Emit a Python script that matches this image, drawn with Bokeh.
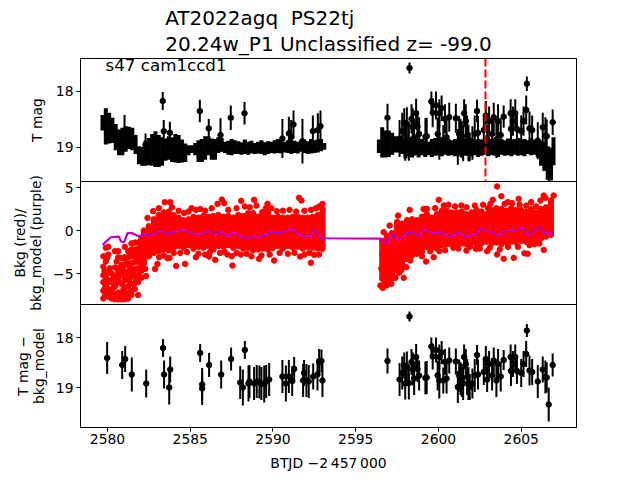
from bokeh.plotting import figure
from bokeh.layouts import column
from bokeh.models import Range1d, Label, Span, FixedTicker, Title
from bokeh.embed import file_html
from bokeh.resources import INLINE

# --- dense photometry envelope (time, upper mag, lower mag)
band_t = [2579.7,2579.9,2580.1,2580.3,2580.5,2580.7,2580.9,2581.1,2581.3,2581.5,2581.7,2581.9,2582.1,2582.3,2582.5,2582.7,2582.9,2583.1,2583.3,2583.5,2583.7,2583.9,2584.1,2584.3,2584.5,2584.7,2584.9,2585.1,2585.3,2585.5,2585.7,2585.9,2586.1,2586.3,2586.5,2586.7,2586.9,2587.1,2587.3,2587.5,2587.7,2587.9,2588.1,2588.3,2588.5,2588.7,2588.9,2589.1,2589.3,2589.5,2589.7,2589.9,2590.1,2590.3,2590.5,2590.7,2590.9,2591.1,2591.3,2591.5,2591.7,2591.9,2592.1,2592.3,2592.5,2592.7,2592.9,2593.1,
          2596.4,2596.6,2596.8,2597.0,2597.2,2597.4,2597.6,2597.8,2598.0,2598.2,2598.4,2598.6,2598.8,2599.0,2599.2,2599.4,2599.6,2599.8,2600.0,2600.2,2600.4,2600.6,2600.8,2601.0,2601.2,2601.4,2601.6,2601.8,2602.0,2602.2,2602.4,2602.6,2602.8,2603.0,2603.2,2603.4,2603.6,2603.8,2604.0,2604.2,2604.4,2604.6,2604.8,2605.0,2605.2,2605.4,2605.6,2605.8,2606.0,2606.2,2606.4,2606.6,2606.8,2606.95]
band_top = [18.42,18.30,18.38,18.47,18.58,18.68,18.65,18.62,18.63,18.65,18.78,18.98,18.99,18.88,18.83,18.76,18.71,18.78,18.82,18.84,18.80,18.82,18.76,18.78,18.86,18.93,18.96,18.96,18.92,18.87,18.85,18.80,18.80,18.84,18.85,18.82,18.83,18.90,18.88,18.85,18.87,18.89,18.91,18.86,18.90,18.88,18.92,18.90,18.87,18.91,18.89,18.90,18.87,18.85,18.88,18.90,18.87,18.86,18.88,18.90,18.87,18.86,18.89,18.85,18.87,18.86,18.85,18.92,
            18.86,18.64,18.70,18.70,18.74,18.80,18.82,18.84,18.82,18.83,18.81,18.85,18.84,18.85,18.88,18.90,18.85,18.83,18.84,18.84,18.86,18.85,18.87,18.85,18.86,18.88,18.84,18.86,18.83,18.87,18.85,18.86,18.84,18.86,18.85,18.83,18.86,18.85,18.87,18.84,18.86,18.85,18.83,18.86,18.85,18.87,18.84,18.86,18.87,18.88,18.90,18.98,19.00,18.82]
band_bot = [18.70,18.95,18.93,18.92,19.05,19.14,19.14,19.08,19.03,19.05,19.12,19.30,19.33,19.33,19.32,19.33,19.35,19.35,19.33,19.24,19.22,19.26,19.27,19.28,19.27,19.26,19.14,19.10,19.14,19.26,19.26,19.22,19.14,19.22,19.22,19.10,19.08,19.10,19.13,19.14,19.12,19.12,19.13,19.12,19.13,19.11,19.12,19.11,19.12,19.14,19.12,19.10,19.11,19.10,19.11,19.09,19.10,19.12,19.10,19.11,19.08,19.10,19.12,19.11,19.10,19.09,19.07,19.04,
            19.10,19.18,19.18,19.17,19.13,19.09,19.09,19.12,19.20,19.16,19.18,19.14,19.18,19.14,19.17,19.14,19.17,19.15,19.14,19.16,19.13,19.15,19.14,19.16,19.14,19.17,19.15,19.13,19.16,19.14,19.17,19.15,19.13,19.16,19.14,19.15,19.17,19.13,19.15,19.14,19.16,19.13,19.15,19.14,19.16,19.12,19.14,19.13,19.18,19.33,19.42,19.58,19.59,19.32]

# --- brighter points in the top panel, first orbit
up_t = [2581.03,2582.30,2583.34,2583.40,2583.77,2585.58,2586.12,2586.83,2587.45,2588.28,2590.57,2590.96,2591.10,2591.24,2591.78,2592.41,2592.71,2592.87]
up_mag = [18.72,18.95,18.17,18.71,18.74,18.35,18.66,18.78,18.47,18.39,18.84,18.75,18.81,18.59,18.89,18.71,18.69,18.62]
up_err = [0.30,0.20,0.16,0.20,0.20,0.20,0.17,0.30,0.22,0.20,0.35,0.30,0.30,0.25,0.40,0.28,0.30,0.28]

# --- background-subtracted points, first orbit
sub1_t = [2579.98,2580.89,2581.07,2581.47,2582.34,2583.36,2583.42,2583.73,2583.79,2585.60,2585.72,2585.72,2586.14,2586.87,2587.47,2588.30,2588.02,2588.18,2588.52,2588.58,2588.86,2589.02,2589.18,2589.30,2589.47,2589.59,2589.77,2590.57,2590.78,2590.96,2591.16,2591.28,2591.82,2591.88,2592.02,2592.16,2592.43,2592.69,2592.79,2592.93,2592.99]
sub1_mag = [18.41,18.55,18.43,18.74,18.92,18.21,18.74,19.00,18.64,18.31,18.94,19.02,18.55,18.74,18.43,18.25,18.90,19.00,18.92,18.88,18.92,18.88,18.89,18.92,18.93,18.88,18.84,18.78,18.92,18.78,18.87,18.63,18.86,18.71,18.86,18.88,18.78,18.74,18.49,18.47,18.86]
sub1_err = [0.32,0.28,0.26,0.34,0.28,0.18,0.28,0.34,0.26,0.18,0.33,0.33,0.24,0.28,0.23,0.18,0.33,0.36,0.36,0.33,0.33,0.33,0.33,0.33,0.37,0.33,0.33,0.33,0.36,0.33,0.30,0.24,0.33,0.26,0.33,0.33,0.26,0.32,0.26,0.23,0.33]

# --- sparse points, second orbit
sub2_t = [2596.92,2597.65,2597.81,2597.93,2597.99,2598.09,2598.21,2598.25,2598.37,2598.45,2598.53,2598.65,2598.73,2598.83,2599.21,2599.29,2599.57,2599.65,2599.85,2599.95,2600.05,2600.05,2600.19,2600.29,2600.39,2600.49,2600.65,2601.05,2601.17,2601.25,2601.33,2601.41,2601.49,2601.55,2601.65,2601.73,2601.81,2601.89,2602.05,2602.19,2602.33,2602.39,2602.74,2602.86,2602.94,2603.06,2603.24,2603.34,2603.50,2603.60,2603.76,2603.94,2604.36,2604.38,2604.50,2604.64,2604.74,2605.00,2605.14,2605.30,2605.34,2605.50,2605.66,2606.00,2606.30,2606.46,2606.54,2606.66,2606.90]
sub2_mag = [18.47,18.84,18.71,18.56,18.92,18.58,18.91,17.58,18.49,18.63,18.82,18.39,18.63,18.76,18.81,18.80,18.18,18.38,18.25,18.76,18.39,18.86,18.30,18.86,18.49,18.82,18.46,18.48,18.99,18.76,18.82,18.86,18.92,18.39,18.53,18.79,18.92,18.99,18.92,18.76,18.35,18.74,18.69,18.43,18.84,18.53,18.76,18.46,18.86,18.53,18.78,18.45,18.39,18.67,18.53,18.39,18.67,18.71,18.53,18.33,17.86,18.66,18.69,18.88,18.64,18.79,18.80,19.34,18.55]
sub2_err = [0.25,0.33,0.33,0.26,0.32,0.30,0.33,0.10,0.26,0.33,0.33,0.26,0.26,0.30,0.33,0.33,0.18,0.26,0.25,0.30,0.25,0.36,0.23,0.26,0.26,0.30,0.26,0.26,0.32,0.32,0.33,0.33,0.33,0.25,0.30,0.36,0.33,0.26,0.30,0.33,0.20,0.30,0.26,0.26,0.25,0.26,0.30,0.26,0.33,0.30,0.30,0.20,0.25,0.30,0.26,0.25,0.26,0.28,0.26,0.26,0.13,0.30,0.26,0.33,0.26,0.33,0.30,0.34,0.23]

# --- background: solid core of the red cloud (time, low, high)
bkg_t = [2582.2,2582.5,2582.8,2583.1,2583.4,2583.7,2584.0,2584.3,2584.6,2584.9,2585.2,2585.5,2585.8,2586.1,2586.4,2586.7,2587.0,2587.3,2587.6,2587.9,2588.2,2588.5,2588.8,2589.1,2589.4,2589.7,2590.0,2590.3,2590.6,2590.9,2591.2,2591.5,2591.8,2592.1,2592.4,2592.7,2593.0,
         2596.6,2596.9,2597.2,2597.5,2597.8,2598.1,2598.4,2598.7,2599.0,2599.3,2599.6,2599.9,2600.2,2600.5,2600.8,2601.1,2601.4,2601.7,2602.0,2602.3,2602.6,2602.9,2603.2,2603.5,2603.8,2604.1,2604.4,2604.7,2605.0,2605.3,2605.6,2605.9,2606.2,2606.5,2606.8]
bkg_lo = [-3.8,-3.0,-2.6,-2.4,-2.2,-2.3,-2.0,-1.8,-2.0,-1.7,-2.1,-1.9,-2.0,-1.8,-2.2,-1.8,-1.9,-1.7,-2.0,-1.8,-2.1,-2.0,-2.3,-2.2,-2.1,-2.2,-2.0,-1.8,-2.1,-1.8,-2.0,-1.9,-2.1,-1.9,-2.0,-2.1,-1.8,
          -5.6,-5.4,-5.6,-4.6,-4.1,-3.3,-2.9,-2.7,-2.5,-1.9,-2.0,-2.1,-1.7,-1.6,-1.6,-1.6,-1.5,-1.6,-1.4,-1.7,-1.5,-1.3,-1.5,-1.4,-1.6,-1.4,-1.3,-1.4,-1.2,-1.3,-1.1,-1.1,-0.9,-0.7,-0.5]
bkg_hi = [0.0,0.5,1.3,1.8,2.1,2.2,1.8,1.5,1.2,1.3,1.6,1.5,1.7,1.6,1.7,1.8,1.6,1.7,1.5,1.8,1.7,2.0,2.0,1.6,1.8,2.1,1.5,1.6,1.5,1.5,1.6,1.6,1.5,1.5,1.6,1.8,2.5,
          -1.2,-0.6,-0.3,1.0,0.8,1.2,1.3,1.2,1.6,1.9,1.5,1.9,2.3,2.3,2.1,2.1,2.2,1.9,2.1,2.4,2.2,1.9,2.4,2.6,2.5,2.3,2.6,2.4,2.4,2.2,2.5,2.1,2.5,2.7,3.5]

# --- background: individual red points
dot_t = [2579.75,2579.75,2579.75,2579.75,2579.75,2579.75,2579.9,2579.9,2579.9,2579.9,2579.9,2580.05,2580.05,2580.05,2580.05,2580.05,2580.05,2580.25,2580.25,2580.25,2580.25,2580.45,2580.45,2580.45,2580.45,2580.45,2580.45,2580.65,2580.65,2580.65,2580.65,2580.65,2580.65,2580.85,2580.85,2580.85,2580.85,2580.85,2580.85,2581.05,2581.05,2581.05,2581.05,2581.05,2581.05,2581.05,2581.05,2581.25,2581.25,2581.25,2581.25,2581.25,2581.25,2581.25,2581.25,2581.45,2581.45,2581.45,2581.45,2581.45,2581.45,2581.45,2581.45,2581.45,2581.65,2581.65,2581.65,2581.65,2581.65,2581.65,2581.65,2581.65,2581.85,2581.85,2581.85,2581.85,2581.85,2581.85,2581.85,2581.85,2582.05,2582.05,2582.05,2582.05,2582.05,2582.05,2582.05,
         2583.46,2583.79,2582.76,2582.42,2584.63,2585.08,2585.34,2586.65,2586.91,2587.05,2588.08,2588.86,2589.67,2589.57,2590.23,2591.58,2591.72,2592.99,2592.79,2589.35,
         2582.28,2582.88,2583.02,2583.12,2583.63,2583.75,2584.15,2584.69,2585.34,2586.14,2586.51,2587.25,2587.55,2587.51,2588.06,2589.16,2590.07,2591.64,2592.29,2592.49,2592.79,2592.99,
         2603.54,2603.80,2603.28,2603.14,2600.02,2598.26,2597.56,2599.31,2600.32,2601.38,2604.45,2604.85,2606.16,2606.36,2606.96,2606.46,
         2596.69,2597.05,2596.49,2596.63,2597.09,2597.90,2598.06,2598.30,2599.25,2599.71,2600.06,2601.69,2602.27,2602.94,2603.54,2603.94,2604.55,2605.19,2605.39,2606.36,
         2579.82,2579.84,2579.86,2579.97,2579.99,2580.14,2580.17,2580.34,2580.37,2580.39,2580.55,2580.58,2580.74,2580.77,2580.79,2580.94,2580.97,2581.13,2581.16,2581.34,2581.37,2581.53,2581.56,2581.74,2581.77,2581.93,2581.96,2582.12,2582.15,2582.33,
         2596.55,2596.60,2596.65,2596.72,2596.78,2596.85,2596.92,2597.0,2597.15,2597.28,2597.4,2597.62,2597.75,
         2583.1,2583.9,2584.3,2584.9,2585.6,2585.9,2586.3,2587.3,2587.8,2588.3,2588.6,2589.0,2589.9,2590.6,2591.0,2591.4,2591.9,2592.3,2592.6,
         2583.4,2584.0,2584.4,2584.8,2585.5,2585.9,2586.2,2586.8,2587.1,2587.8,2588.4,2588.7,2589.3,2589.8,2590.4,2590.9,2591.3,2591.9,2592.2,
         2599.1,2599.8,2600.6,2601.0,2601.7,2602.2,2602.7,2603.0,2604.0,2604.2,2604.9,2605.3,2605.6,2605.9,
         2599.0,2599.5,2600.4,2600.9,2601.2,2601.9,2602.5,2603.1,2603.7,2604.2,2604.8,2605.5,2605.8,2606.1]
dot_v = [-3.0,-4.2,-5.2,-6.0,-7.0,-7.9,-2.0,-3.6,-5.5,-6.4,-7.2,-1.9,-2.8,-4.9,-5.8,-6.8,-7.7,-5.0,-6.0,-7.0,-7.9,-2.4,-4.3,-5.3,-6.5,-7.4,-8.0,-2.4,-3.1,-4.8,-5.7,-7.2,-8.0,-3.2,-4.0,-5.2,-6.2,-7.3,-8.0,-1.9,-3.1,-4.0,-4.9,-5.8,-6.6,-7.4,-8.0,-2.4,-3.1,-3.9,-4.8,-5.7,-6.5,-7.3,-7.9,-1.5,-2.2,-3.0,-3.8,-4.6,-5.4,-6.2,-7.0,-7.5,-1.4,-2.2,-2.9,-3.7,-4.5,-5.3,-6.1,-6.8,-1.4,-2.1,-2.9,-3.6,-4.4,-5.2,-6.0,-7.5,-1.0,-1.6,-2.4,-3.1,-3.9,-4.7,-5.5,
         3.29,3.29,2.25,1.47,2.05,2.60,2.40,3.10,3.60,3.18,3.45,3.57,3.10,2.60,2.25,3.80,3.49,3.10,2.79,2.13,
         -4.46,-4.46,-3.88,-3.10,-3.22,-3.18,-4.11,-3.88,-3.10,-3.02,-3.41,-2.79,-4.07,-2.98,-2.79,-3.29,-3.49,-3.02,-3.75,-2.83,-2.79,-2.13,
         5.12,3.99,3.57,3.10,3.57,2.40,1.74,2.52,2.91,2.91,3.18,3.68,3.49,4.07,4.07,3.80,
         -0.19,0.58,-6.40,-6.67,-6.12,-5.50,-4.26,-3.49,-3.60,-3.10,-2.40,-2.33,-2.13,-2.40,-2.79,-3.29,-3.18,-2.64,-2.71,-2.25,
         -4.7,-6.7,-7.6,-3.2,-6.1,-4.4,-7.3,-5.6,-6.6,-7.6,-3.6,-6.1,-4.3,-5.2,-7.7,-4.6,-6.8,-3.5,-5.4,-4.3,-6.1,-2.6,-4.9,-3.2,-5.7,-2.5,-4.8,-2.8,-4.3,-5.3,
         -4.4,-2.7,-3.6,-6.2,-3.0,-6.4,-5.9,-2.2,-6.2,-5.4,-5.5,-4.9,-4.6,
         2.6,2.7,2.3,2.2,2.5,2.3,2.6,2.4,2.6,2.8,2.7,2.9,2.6,2.3,2.4,2.2,2.3,2.4,2.6,
         -2.9,-2.6,-2.6,-2.5,-2.7,-2.8,-2.5,-2.6,-2.5,-2.6,-2.7,-3.0,-2.9,-2.8,-2.6,-2.7,-2.6,-2.8,-2.6,
         2.5,2.6,3.0,2.8,2.7,2.9,3.0,2.6,3.1,3.3,3.0,2.9,3.3,2.8,
         -3.0,-2.4,-2.3,-2.0,-2.1,-1.9,-2.1,-2.0,-2.2,-1.9,-1.9,-1.7,-1.6,-1.5]

# --- background model (purple)
model_t = [2579.70,2580.20,2580.70,2580.81,2581.01,2581.21,2581.51,2581.91,2582.22,2582.62,2583.22,2583.63,2584.23,2584.63,2585.04,2585.64,2586.14,2586.55,2586.85,2587.25,2587.55,2588.26,2588.66,2589.26,2589.87,2590.47,2591.08,2591.68,2592.29,2592.49,2592.89,2593.10,2596.49,2596.89,2597.20,2597.60,2598.00,2598.50,2598.81,2599.11,2599.71,2600.12,2600.72,2601.22,2601.63,2602.33,2602.53,2603.14,2603.64,2604.04,2604.75,2605.05,2605.45,2606.06,2606.46,2606.96]
model_v = [-1.67,-0.78,-0.70,-1.28,-1.36,-0.31,-0.31,-0.70,-0.39,-0.50,0.00,-0.39,-0.08,0.08,-0.31,-0.47,0.00,-0.50,-0.08,-0.70,-0.19,-0.85,-0.78,-0.70,-0.19,-0.31,0.19,-0.58,-0.70,0.12,-0.85,-0.90,-0.93,-1.55,-0.39,-1.16,-0.39,-0.19,-0.70,0.19,-0.39,-0.19,-0.70,-0.19,-0.70,-0.31,0.27,-0.19,-0.58,0.00,0.12,0.39,-0.58,0.39,-0.39,-0.31]

event_t = 2602.84
x_ticks = [2580, 2585, 2590, 2595, 2600, 2605]
mag_ticks = [18, 19]
bkg_ticks = [-5, 0, 5]

FONT = "DejaVu Sans"
x_range = Range1d(2578.37, 2608.34)


def panel(height, y_range, ticks, ylabel, standoff, top=0, bottom=0):
    p = figure(width=640, height=height, x_range=x_range, y_range=y_range,
               toolbar_location=None, output_backend="svg",
               min_border_left=80, min_border_right=64, min_border_top=top,
               min_border_bottom=bottom)
    p.grid.visible = False
    p.outline_line_color = "black"
    p.outline_line_width = 1
    p.border_fill_color = None
    ax = p.yaxis[0]
    ax.ticker = FixedTicker(ticks=ticks)
    ax.major_label_overrides = {t: str(t).replace("-", "\u2212") for t in ticks}
    ax.minor_tick_line_color = None
    ax.major_tick_in = 0
    ax.major_tick_out = 4
    ax.major_label_text_font = FONT
    ax.major_label_text_font_size = "13.9px"
    ax.major_label_text_color = "black"
    ax.major_label_standoff = 3
    ax.axis_line_color = None
    ax.axis_label = ylabel
    ax.axis_label_text_font = FONT
    ax.axis_label_text_font_size = "13.9px"
    ax.axis_label_text_font_style = "normal"
    ax.axis_label_text_color = "black"
    ax.axis_label_text_line_height = 1.0
    ax.axis_label_standoff = standoff
    return p


def points(p, t, mag, err):
    p.segment(t, [m - e for m, e in zip(mag, err)], t, [m + e for m, e in zip(mag, err)],
              line_color="black", line_width=2)
    p.scatter(t, mag, size=5.5, color="black")


p1 = panel(182, Range1d(19.61, 17.41), mag_ticks, "T mag", 8, top=58, bottom=1)
p1.margin = (0, 0, -1, 0)
p1.xaxis.visible = False
p1.segment(band_t, band_top, band_t, band_bot, line_color="black", line_width=4)
points(p1, up_t, up_mag, up_err)
points(p1, sub2_t, sub2_mag, sub2_err)
p1.add_layout(Span(location=event_t, dimension="height", line_color="red",
                   line_width=2, line_dash="8 3"))
p1.add_layout(Title(text="AT2022agq \u00a0PS22tj\n20.24w_P1 Unclassified z= -99.0",
                    align="center", standoff=5, text_line_height=1.1,
                    text_font=FONT, text_font_size="20px", text_font_style="normal",
                    text_color="black"), "above")
p1.add_layout(Label(x=25, y=117, x_units="screen", y_units="screen", text="s47 cam1ccd1",
                    text_font=FONT, text_font_size="16.7px", text_align="left",
                    text_baseline="middle", text_color="black"))

p2 = panel(143, Range1d(-8.6, 5.7), bkg_ticks, "Bkg (red)/\nbkg_model (purple)", 6, top=10, bottom=10)
p2.margin = (-10, 0, -10, 0)
p2.xaxis.visible = False
p2.segment(bkg_t, bkg_lo, bkg_t, bkg_hi, line_color="red", line_width=6)
p2.scatter(bkg_t + bkg_t, bkg_lo + bkg_hi, size=5.5, color="red")
p2.scatter(dot_t, dot_v, size=5.5, color="red")
p2.line(model_t, model_v, line_color="#bf00bf", line_width=2.2)

p3 = panel(176, Range1d(19.8, 17.34), mag_ticks, "T mag \u2212\nbkg_model", 6, bottom=53)
points(p3, sub1_t, sub1_mag, sub1_err)
points(p3, sub2_t, sub2_mag, sub2_err)
xa = p3.xaxis[0]
xa.ticker = FixedTicker(ticks=x_ticks)
xa.minor_tick_line_color = None
xa.major_tick_in = 0
xa.major_tick_out = 4
xa.axis_line_color = None
xa.major_label_text_font = FONT
xa.major_label_text_font_size = "13.9px"
xa.major_label_text_color = "black"
xa.major_label_standoff = 2
xa.axis_label = "BTJD \u22122\u2009457\u2009000"
xa.axis_label_text_font = FONT
xa.axis_label_text_font_size = "13.9px"
xa.axis_label_text_font_style = "normal"
xa.axis_label_text_color = "black"
xa.axis_label_standoff = 8

page = column(p1, p2, p3, spacing=0)
open("out.html", "w").write(file_html(page, INLINE))
